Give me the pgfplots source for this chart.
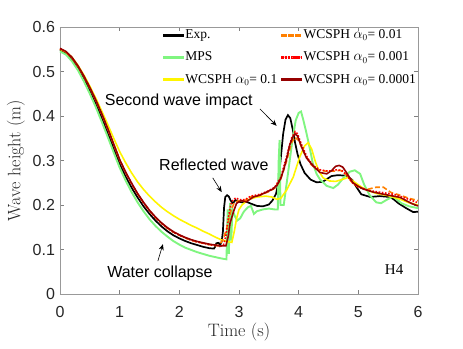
\documentclass[border=0pt]{standalone}
\usepackage{fontspec}
\usepackage{pgfplots}
\pgfplotsset{compat=1.18}
\usetikzlibrary{arrows.meta}
\newfontfamily\arial{Liberation Sans}
\newfontfamily\tnr{Liberation Serif}
\definecolor{mpsgreen}{RGB}{128,245,128}
\definecolor{wyellow}{RGB}{255,245,0}
\definecolor{worange}{RGB}{255,128,0}
\definecolor{wred}{RGB}{255,0,0}
\definecolor{wdarkred}{RGB}{150,0,0}

\begin{document}
\begin{tikzpicture}
\path[use as bounding box] (-60pt,-54pt) rectangle (403pt,294pt);
\begin{axis}[
  at={(0,0)}, anchor=south west,
  scale only axis, width=358pt, height=267pt,
  xmin=0, xmax=6, ymin=0, ymax=0.6,
  xtick={0,1,...,6}, ytick={0,0.1,...,0.6},
  tick align=inside, xtick pos=both, ytick pos=both,
  major tick length=3.6pt,
  axis line style={black!40}, tick style={black!50, line width=0.5pt},
  /pgf/number format/assume math mode=true,
  ticklabel style={font=\arial\fontsize{16}{16}\selectfont, color=black!85},
  xticklabel style={anchor=center, yshift=-18pt},
  yticklabel style={xshift=-1.5pt},
  xlabel={Time (s)}, ylabel={Wave height (m)},
  label style={font=\fontsize{18}{18}\selectfont, color=black!85},
  xlabel style={at={(axis description cs:0.5,-0.142)}, anchor=center},
  ylabel style={at={(axis description cs:-0.123,0.5)}, anchor=center},
  clip=false,
  legend columns=2,
  legend cell align=left,
  legend style={at={(axis description cs:1,1.004)}, anchor=north east,
    draw=none, fill=none, font=\tnr\fontsize{13.5}{14}\selectfont,
    row sep=4.5pt, inner sep=0pt,
    nodes={inner ysep=3.6pt},
    /tikz/every even column/.append style={column sep=2pt}},
]
% Exp.
\addplot[black, line width=1.7pt, forget plot] coordinates {
(0,0.548)(0.1,0.541)(0.2,0.527)(0.3,0.507)(0.4,0.483)(0.5,0.456)(0.6,0.427)(0.7,0.395)(0.8,0.361)(0.9,0.326)(1.0,0.292)(1.1,0.264)(1.2,0.239)(1.3,0.217)(1.4,0.197)(1.5,0.180)(1.6,0.165)(1.7,0.152)(1.8,0.141)(1.9,0.132)(2.0,0.125)(2.1,0.119)(2.2,0.114)(2.3,0.110)(2.4,0.106)(2.5,0.103)(2.58,0.102)(2.6,0.106)(2.62,0.114)(2.66,0.115)(2.68,0.109)(2.71,0.118)(2.73,0.14)(2.75,0.195)(2.77,0.218)(2.8,0.222)(2.83,0.219)(2.86,0.21)(2.9,0.204)(2.94,0.211)(2.98,0.208)(3.05,0.206)(3.13,0.207)(3.2,0.203)(3.3,0.198)(3.4,0.197)(3.5,0.201)(3.56,0.21)(3.62,0.225)(3.66,0.25)(3.7,0.305)(3.74,0.36)(3.78,0.392)(3.82,0.402)(3.86,0.395)(3.9,0.37)(3.94,0.34)(3.98,0.315)(4.03,0.292)(4.1,0.272)(4.2,0.257)(4.3,0.251)(4.4,0.252)(4.47,0.258)(4.55,0.265)(4.65,0.267)(4.8,0.266)(4.9,0.256)(4.96,0.242)(5.05,0.224)(5.2,0.218)(5.36,0.22)(5.53,0.218)(5.6,0.212)(5.67,0.204)(5.8,0.193)(5.92,0.184)(6.0,0.185)
};
% MPS
\addplot[mpsgreen, line width=1.9pt, forget plot] coordinates {
(0,0.545)(0.1,0.538)(0.2,0.523)(0.3,0.503)(0.4,0.478)(0.5,0.450)(0.6,0.420)(0.7,0.387)(0.8,0.353)(0.9,0.318)(1.0,0.284)(1.1,0.255)(1.2,0.229)(1.3,0.206)(1.4,0.186)(1.5,0.168)(1.6,0.153)(1.7,0.140)(1.8,0.129)(1.9,0.119)(2.0,0.111)(2.1,0.104)(2.2,0.099)(2.3,0.094)(2.4,0.090)(2.5,0.086)(2.6,0.083)(2.7,0.080)(2.79,0.078)(2.81,0.19)(2.83,0.09)(2.85,0.205)(2.87,0.12)(2.89,0.19)(2.93,0.175)(2.97,0.165)(3.02,0.17)(3.08,0.185)(3.15,0.195)(3.2,0.198)(3.25,0.18)(3.3,0.186)(3.4,0.19)(3.5,0.192)(3.6,0.19)(3.65,0.19)(3.665,0.3)(3.68,0.346)(3.695,0.2)(3.75,0.2)(3.8,0.25)(3.85,0.3)(3.9,0.35)(3.95,0.39)(4.0,0.407)(4.04,0.41)(4.08,0.39)(4.13,0.362)(4.19,0.325)(4.24,0.292)(4.3,0.27)(4.36,0.257)(4.47,0.243)(4.58,0.238)(4.66,0.246)(4.75,0.261)(4.86,0.275)(4.94,0.278)(5.03,0.27)(5.1,0.245)(5.19,0.222)(5.3,0.206)(5.38,0.204)(5.48,0.212)(5.58,0.219)(5.65,0.212)(5.72,0.204)(5.85,0.197)(6.0,0.193)
};
% WCSPH 0.1
\addplot[wyellow, line width=1.6pt, forget plot] coordinates {
(0,0.550)(0.1,0.544)(0.2,0.532)(0.3,0.514)(0.4,0.492)(0.5,0.467)(0.6,0.440)(0.7,0.411)(0.8,0.381)(0.9,0.350)(1.0,0.320)(1.1,0.295)(1.2,0.272)(1.3,0.252)(1.4,0.235)(1.5,0.220)(1.6,0.207)(1.7,0.195)(1.8,0.185)(1.9,0.176)(2.0,0.168)(2.1,0.161)(2.2,0.154)(2.3,0.148)(2.4,0.141)(2.5,0.135)(2.6,0.128)(2.7,0.122)(2.8,0.118)(2.88,0.116)(2.92,0.14)(2.96,0.17)(3.0,0.19)(3.05,0.2)(3.15,0.212)(3.3,0.218)(3.45,0.22)(3.55,0.218)(3.63,0.213)(3.7,0.215)(3.8,0.234)(3.91,0.263)(4.02,0.309)(4.1,0.333)(4.16,0.34)(4.22,0.325)(4.28,0.297)(4.34,0.276)(4.41,0.261)(4.52,0.254)(4.62,0.253)(4.72,0.257)(4.83,0.262)(4.95,0.25)(5.1,0.236)(5.3,0.226)(5.5,0.221)(5.7,0.213)(5.85,0.205)(6.0,0.2)
};
% WCSPH 0.01
\addplot[color=worange, line width=1.6pt, dash pattern=on 5pt off 2.5pt, forget plot] coordinates {
(0,0.551)(0.1,0.544)(0.2,0.531)(0.3,0.512)(0.4,0.489)(0.5,0.463)(0.6,0.435)(0.7,0.404)(0.8,0.371)(0.9,0.336)(1.0,0.301)(1.1,0.273)(1.2,0.248)(1.3,0.225)(1.4,0.205)(1.5,0.187)(1.6,0.172)(1.7,0.159)(1.8,0.148)(1.9,0.139)(2.0,0.132)(2.1,0.126)(2.2,0.121)(2.3,0.117)(2.4,0.114)(2.5,0.111)(2.6,0.109)(2.66,0.109)(2.7,0.116)(2.74,0.125)(2.8,0.15)(2.86,0.185)(2.92,0.205)(3.0,0.21)(3.1,0.21)(3.2,0.218)(3.35,0.222)(3.5,0.23)(3.6,0.238)(3.7,0.258)(3.8,0.3)(3.88,0.34)(3.94,0.352)(4.0,0.345)(4.1,0.315)(4.2,0.292)(4.3,0.28)(4.45,0.276)(4.6,0.276)(4.7,0.278)(4.8,0.268)(4.9,0.25)(5.0,0.24)(5.15,0.235)(5.3,0.24)(5.42,0.24)(5.55,0.228)(5.7,0.222)(5.85,0.215)(6.0,0.21)
};
% WCSPH 0.001
\addplot[color=wred, line width=1.6pt, dash pattern=on 1.6pt off 1.6pt, forget plot] coordinates {
(0,0.551)(0.1,0.544)(0.2,0.531)(0.3,0.512)(0.4,0.489)(0.5,0.463)(0.6,0.435)(0.7,0.404)(0.8,0.371)(0.9,0.336)(1.0,0.301)(1.1,0.273)(1.2,0.248)(1.3,0.225)(1.4,0.205)(1.5,0.187)(1.6,0.172)(1.7,0.159)(1.8,0.148)(1.9,0.139)(2.0,0.132)(2.1,0.126)(2.2,0.121)(2.3,0.117)(2.4,0.114)(2.5,0.111)(2.6,0.109)(2.7,0.108)(2.74,0.11)(2.78,0.13)(2.82,0.17)(2.86,0.2)(2.9,0.212)(2.95,0.216)(3.0,0.212)(3.1,0.212)(3.2,0.22)(3.35,0.224)(3.5,0.232)(3.6,0.24)(3.7,0.262)(3.8,0.31)(3.88,0.35)(3.94,0.365)(3.98,0.36)(4.05,0.335)(4.15,0.305)(4.25,0.288)(4.36,0.279)(4.5,0.276)(4.63,0.279)(4.72,0.278)(4.8,0.268)(4.9,0.25)(5.0,0.24)(5.2,0.232)(5.4,0.228)(5.6,0.224)(5.8,0.215)(5.9,0.21)(6.0,0.205)
};
% WCSPH 0.0001
\addplot[color=wdarkred, line width=1.6pt, forget plot] coordinates {
(0,0.552)(0.1,0.545)(0.2,0.532)(0.3,0.513)(0.4,0.490)(0.5,0.464)(0.6,0.436)(0.7,0.405)(0.8,0.372)(0.9,0.337)(1.0,0.302)(1.1,0.274)(1.2,0.249)(1.3,0.226)(1.4,0.206)(1.5,0.188)(1.6,0.173)(1.7,0.160)(1.8,0.149)(1.9,0.140)(2.0,0.133)(2.1,0.127)(2.2,0.122)(2.3,0.118)(2.4,0.115)(2.5,0.112)(2.6,0.110)(2.7,0.108)(2.78,0.108)(2.82,0.13)(2.85,0.159)(2.91,0.186)(2.96,0.204)(3.04,0.21)(3.12,0.207)(3.24,0.218)(3.35,0.222)(3.46,0.229)(3.57,0.236)(3.64,0.245)(3.7,0.26)(3.75,0.28)(3.8,0.305)(3.85,0.335)(3.9,0.352)(3.94,0.36)(3.98,0.355)(4.05,0.33)(4.13,0.306)(4.24,0.288)(4.36,0.273)(4.47,0.27)(4.55,0.277)(4.62,0.287)(4.68,0.289)(4.74,0.285)(4.8,0.273)(4.91,0.25)(5.0,0.242)(5.08,0.236)(5.25,0.229)(5.47,0.223)(5.7,0.217)(5.8,0.21)(5.9,0.203)(6.0,0.198)
};
% legend (row by row); samples are filled bars so no stroke width is needed
\addlegendimage{legend image code/.code={\fill[black] (0pt,-0.85pt) rectangle (20pt,0.85pt);}}
\addlegendentry{Exp.}
\addlegendimage{legend image code/.code={\fill[worange] (0pt,-0.8pt) rectangle (4.5pt,0.8pt) (7pt,-0.8pt) rectangle (11.5pt,0.8pt) (14pt,-0.8pt) rectangle (18.5pt,0.8pt);}}
\addlegendentry{WCSPH $\alpha_0$= 0.01}
\addlegendimage{legend image code/.code={\fill[mpsgreen] (0pt,-0.95pt) rectangle (20pt,0.95pt);}}
\addlegendentry{MPS}
\addlegendimage{legend image code/.code={\fill[wred] (0pt,-0.8pt) rectangle (1.6pt,0.8pt) (3.2pt,-0.8pt) rectangle (4.8pt,0.8pt) (6.4pt,-0.8pt) rectangle (8pt,0.8pt) (9.6pt,-0.8pt) rectangle (11.2pt,0.8pt) (12.8pt,-0.8pt) rectangle (14.4pt,0.8pt) (16pt,-0.8pt) rectangle (17.6pt,0.8pt) (19.2pt,-0.8pt) rectangle (20pt,0.8pt);}}
\addlegendentry{WCSPH $\alpha_0$= 0.001}
\addlegendimage{legend image code/.code={\fill[wyellow] (0pt,-0.8pt) rectangle (20pt,0.8pt);}}
\addlegendentry{WCSPH $\alpha_0$= 0.1}
\addlegendimage{legend image code/.code={\fill[wdarkred] (0pt,-0.8pt) rectangle (20pt,0.8pt);}}
\addlegendentry{WCSPH $\alpha_0$= 0.0001}
% annotations
\node[font=\arial\fontsize{16}{16}\selectfont] at (axis cs:1.99,0.434) {Second wave impact};
\node[font=\arial\fontsize{16}{16}\selectfont] at (axis cs:2.58,0.290) {Reflected wave};
\node[font=\arial\fontsize{16}{16}\selectfont] at (axis cs:1.675,0.047) {Water collapse};
\draw[-{Stealth[length=6pt,width=5pt]}, line width=0.6pt] (axis cs:3.35,0.416) -- (axis cs:3.63,0.378);
\draw[-{Stealth[length=6pt,width=5pt]}, line width=0.6pt] (axis cs:2.56,0.261) -- (axis cs:2.71,0.229);
\draw[-{Stealth[length=6pt,width=5pt]}, line width=0.6pt] (axis cs:1.64,0.074) -- (axis cs:1.725,0.112);
\node[font=\tnr\fontsize{15}{15}\selectfont] at (axis cs:5.6,0.054) {H4};
\end{axis}
\end{tikzpicture}
\end{document}
